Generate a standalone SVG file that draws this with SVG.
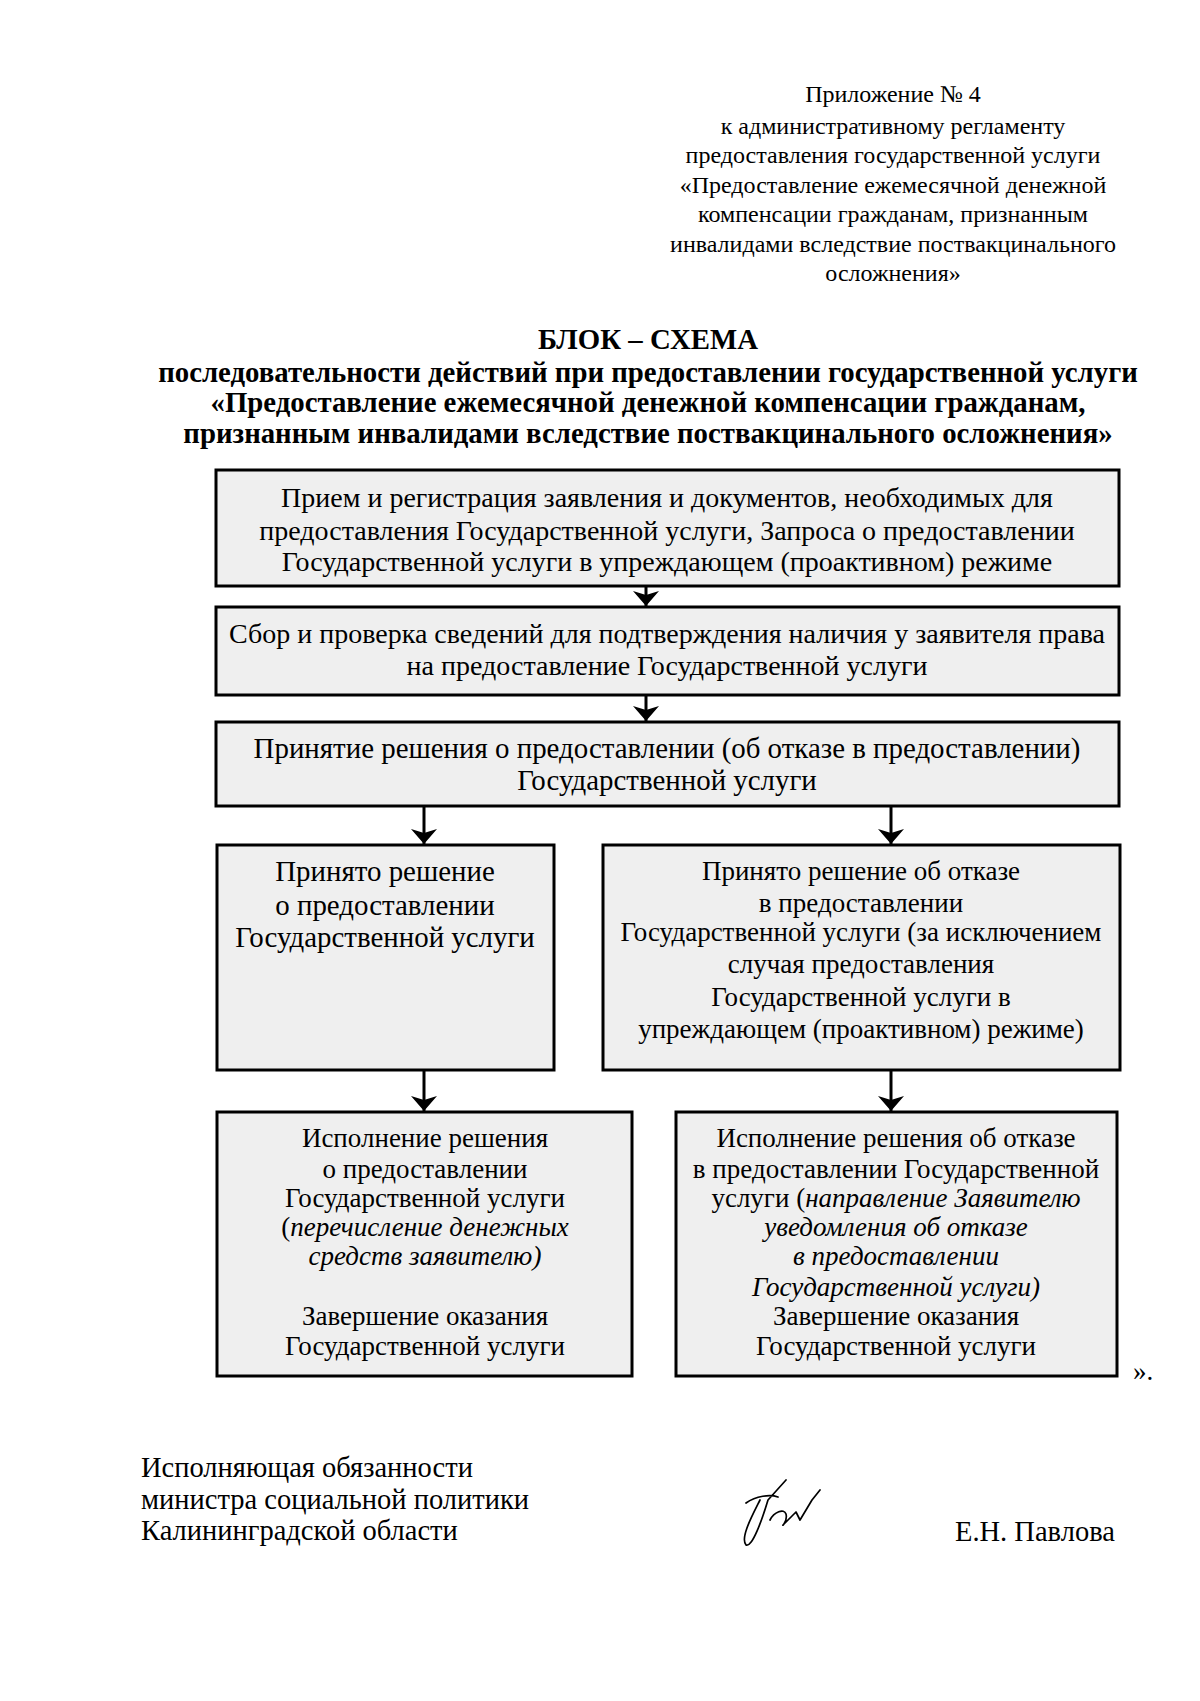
<svg xmlns="http://www.w3.org/2000/svg" width="1200" height="1701" viewBox="0 0 1200 1701">
<style>
text{font-family:"Liberation Serif","Times New Roman",serif;fill:#000}
.hdr{font-size:24px;text-anchor:middle}
.ttl{font-size:28.8px;font-weight:bold;text-anchor:middle}
.bx{font-size:27px;text-anchor:middle}
.b28{font-size:28px}
.b29{font-size:28.9px}
.sig{font-size:28.5px}
.it{font-style:italic}
.box{fill:#efefef;stroke:#000;stroke-width:3}
.conn{stroke:#000;stroke-width:3;fill:none}
</style>
<defs>
<marker id="ah" markerUnits="userSpaceOnUse" markerWidth="15" markerHeight="26" refX="15" refY="13" orient="auto" viewBox="0 0 15 26">
<path d="M0,0 L15,13 L0,26 L4,13 Z" fill="#000"/>
</marker>
</defs>
<rect width="1200" height="1701" fill="#fff"/>

<g id="header">
<text class="hdr" x="893" y="102">Приложение № 4</text>
<text class="hdr" x="893" y="134">к административному регламенту</text>
<text class="hdr" x="893" y="163">предоставления государственной услуги</text>
<text class="hdr" x="893" y="193">«Предоставление ежемесячной денежной</text>
<text class="hdr" x="893" y="222">компенсации гражданам, признанным</text>
<text class="hdr" x="893" y="252">инвалидами вследствие поствакцинального</text>
<text class="hdr" x="893" y="281">осложнения»</text>
</g>

<g id="title">
<text class="ttl" x="648" y="349" font-size="30.4">БЛОК – СХЕМА</text>
<text class="ttl" x="648" y="382">последовательности действий при предоставлении государственной услуги</text>
<text class="ttl" x="648" y="412">«Предоставление ежемесячной денежной компенсации гражданам,</text>
<text class="ttl" x="648" y="443">признанным инвалидами вследствие поствакцинального осложнения»</text>
</g>

<g id="connectors">
<line class="conn" x1="646" y1="587" x2="646" y2="606" marker-end="url(#ah)"/>
<line class="conn" x1="646" y1="695" x2="646" y2="721" marker-end="url(#ah)"/>
<line class="conn" x1="424" y1="806" x2="424" y2="844" marker-end="url(#ah)"/>
<line class="conn" x1="891" y1="806" x2="891" y2="844" marker-end="url(#ah)"/>
<line class="conn" x1="424" y1="1070" x2="424" y2="1111" marker-end="url(#ah)"/>
<line class="conn" x1="891" y1="1070" x2="891" y2="1111" marker-end="url(#ah)"/>
</g>

<g id="node1">
<rect class="box" x="216" y="470" width="903" height="116"/>
<text class="bx b28" x="667" y="507">Прием и регистрация заявления и документов, необходимых для</text>
<text class="bx b28" x="667" y="540">предоставления Государственной услуги, Запроса о предоставлении</text>
<text class="bx b28" x="667" y="571">Государственной услуги в упреждающем (проактивном) режиме</text>
</g>

<g id="node2">
<rect class="box" x="216" y="607" width="903" height="88"/>
<text class="bx b28" x="667" y="643">Сбор и проверка сведений для подтверждения наличия у заявителя права</text>
<text class="bx b28" x="667" y="675">на предоставление Государственной услуги</text>
</g>

<g id="node3">
<rect class="box" x="216" y="722" width="903" height="84"/>
<text class="bx b29" x="667" y="758">Принятие решения о предоставлении (об отказе в предоставлении)</text>
<text class="bx b29" x="667" y="790">Государственной услуги</text>
</g>

<g id="node4">
<rect class="box" x="217" y="845" width="337" height="225"/>
<text class="bx b29" x="385" y="881">Принято решение</text>
<text class="bx b29" x="385" y="915">о предоставлении</text>
<text class="bx b29" x="385" y="947">Государственной услуги</text>
</g>

<g id="node5">
<rect class="box" x="603" y="845" width="517" height="225"/>
<text class="bx" x="861" y="880">Принято решение об отказе</text>
<text class="bx" x="861" y="912">в предоставлении</text>
<text class="bx" x="861" y="941">Государственной услуги (за исключением</text>
<text class="bx" x="861" y="973">случая предоставления</text>
<text class="bx" x="861" y="1006">Государственной услуги в</text>
<text class="bx" x="861" y="1038">упреждающем (проактивном) режиме)</text>
</g>

<g id="node6">
<rect class="box" x="217" y="1112" width="415" height="264"/>
<text class="bx" x="425" y="1147">Исполнение решения</text>
<text class="bx" x="425" y="1178">о предоставлении</text>
<text class="bx" x="425" y="1207">Государственной услуги</text>
<text class="bx" x="425" y="1236">(<tspan class="it">перечисление денежных</tspan></text>
<text class="bx it" x="425" y="1265">средств заявителю)</text>
<text class="bx" x="425" y="1325">Завершение оказания</text>
<text class="bx" x="425" y="1355">Государственной услуги</text>
</g>

<g id="node7">
<rect class="box" x="676" y="1112" width="441" height="264"/>
<text class="bx" x="896" y="1147">Исполнение решения об отказе</text>
<text class="bx" x="896" y="1178">в предоставлении Государственной</text>
<text class="bx" x="896" y="1207">услуги (<tspan class="it">направление Заявителю</tspan></text>
<text class="bx it" x="896" y="1236">уведомления об отказе</text>
<text class="bx it" x="896" y="1265">в предоставлении</text>
<text class="bx it" x="896" y="1296">Государственной услуги)</text>
<text class="bx" x="896" y="1325">Завершение оказания</text>
<text class="bx" x="896" y="1355">Государственной услуги</text>
</g>

<text x="1133" y="1380" font-size="27">».</text>

<g id="signature">
<text class="sig" x="141" y="1477">Исполняющая обязанности</text>
<text class="sig" x="141" y="1509">министра социальной политики</text>
<text class="sig" x="141" y="1540">Калининградской области</text>
<path d="M746,1503 C756,1496 770,1494 778,1497 M760,1500 C752,1516 740,1538 746,1545 C752,1548 762,1520 768,1500 L786,1480 M770,1520 C774,1512 784,1508 786,1514 C788,1522 780,1528 784,1524 L796,1512 L800,1520 L812,1500 L820,1490" fill="none" stroke="#000" stroke-width="1.7" stroke-linecap="round" stroke-linejoin="round"/>
<text class="sig" x="955" y="1541">Е.Н. Павлова</text>
</g>
</svg>
